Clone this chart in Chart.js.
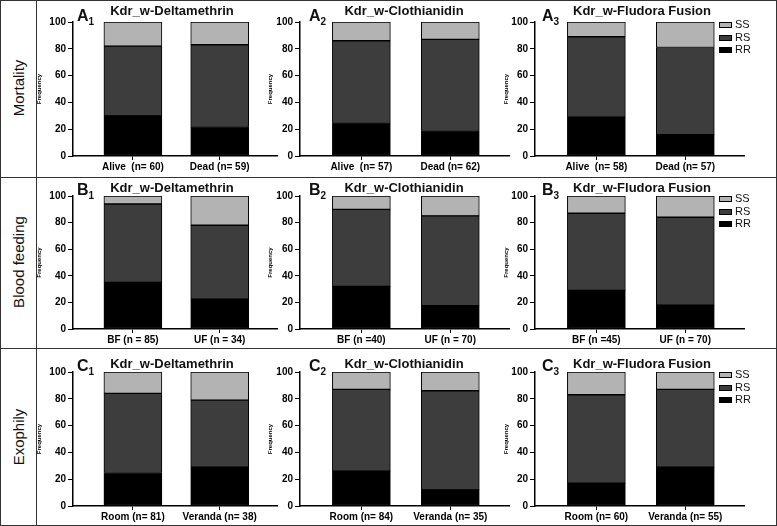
<!DOCTYPE html>
<html>
<head>
<meta charset="utf-8">
<script src="https://cdn.jsdelivr.net/npm/chart.js@4.4.1/dist/chart.umd.min.js"></script>
<style>
body { margin: 0; background: #fff; font-family: "Liberation Sans", Arial, sans-serif; }
#fig { position: relative; width: 777px; height: 526px; overflow: hidden; background: #fff; }
.frame { position: absolute; left: 0; top: 0; width: 775px; height: 524px; border: 1px solid #333; }
.hline { position: absolute; left: 0; width: 777px; height: 1px; background: #333; }
.vline { position: absolute; left: 36px; top: 0; width: 1px; height: 526px; background: #333; }
.rowlab { position: absolute; left: 18px; transform: translate(-50%, -50%) rotate(-90deg); font-size: 15px; white-space: nowrap; color: #111; }
.title { position: absolute; transform: translate(-50%, -50%); font-weight: bold; font-size: 13px; white-space: nowrap; color: #111; }
.plab { position: absolute; font-weight: bold; font-size: 16px; line-height: 16px; color: #111; }
.plab sub { font-size: 10px; vertical-align: baseline; position: relative; top: 4px; }
.legend { position: absolute; font-size: 11px; line-height: 12.5px; color: #111; }
.legend .box { display: inline-block; width: 13px; height: 6px; border: 1px solid #000; box-sizing: border-box; margin-right: 3px; vertical-align: middle; }
canvas { position: absolute; }
</style>
</head>
<body>
<div id="fig">
  <div class="frame"></div>
  <div class="vline"></div>
  <div class="hline" style="top:177px"></div>
  <div class="hline" style="top:348px"></div>
</div>
<script>
// Data

const rowNames = ['Mortality', 'Blood feeding', 'Exophily'];
const panelLetters = ['A', 'B', 'C'];
const insecticides = ['Kdr_w-Deltamethrin', 'Kdr_w-Clothianidin', 'Kdr_w-Fludora Fusion'];
const genotypes = ['RR', 'RS', 'SS'];
const genotypeColors = ['#000000', '#3d3d3d', '#b3b3b3'];
const yTicks = [0, 20, 40, 60, 80, 100];

// one entry per row, then per insecticide
const categories = [
    [['Alive  (n= 60)', 'Dead (n= 59)'], ['Alive  (n= 57)', 'Dead (n= 62)'], ['Alive  (n= 58)', 'Dead (n= 57)']],
    [['BF (n = 85)', 'UF (n = 34)'], ['BF (n =40)', 'UF (n = 70)'], ['BF (n =45)', 'UF (n = 70)']],
    [['Room (n= 81)', 'Veranda (n= 38)'], ['Room (n= 84)', 'Veranda (n= 35)'], ['Room (n= 60)', 'Veranda (n= 55)']]
];
const rrValues = [
    [[30, 22], [25, 19], [29, 16]],
    [[35, 22.5], [32, 17.5], [29, 18]],
    [[25, 29], [26, 12], [17, 29]]
];
const rsValues = [
    [[52, 61], [61, 68], [60, 65]],
    [[59, 55.5], [58, 67.5], [58, 66]],
    [[59, 50], [61, 74], [66, 58]]
];
const ssValues = [
    [[18, 17], [14, 13], [11, 19]],
    [[6, 22], [10, 15], [13, 16]],
    [[16, 21], [13, 14], [17, 13]]
];

// Layout (pixels)

const plotTop = [22, 196, 372];
const plotBottom = [156, 329, 506];
const axisX = [73, 300, 535];
const axisEnd = [277, 509, 744];
const freqX = [40, 271, 507];
const labelX = [77, 309, 542];
const titleX = [172, 404, 642];
const titleY = [10, 187, 363];
const rowMid = [88, 262, 437];

Chart.defaults.font.family = '"Liberation Sans", Arial, sans-serif';
Chart.defaults.color = '#000';

const fig = document.getElementById('fig');
const seriesValues = [rrValues, rsValues, ssValues];

function addDiv(cls, html, style) {
    const d = document.createElement('div');
    d.className = cls;
    d.innerHTML = html;
    Object.assign(d.style, style);
    fig.appendChild(d);
    return d;
}

rowNames.forEach((name, r) => {
    addDiv('rowlab', name, { top: rowMid[r] + 'px' });

    insecticides.forEach((ins, c) => {
        const left = freqX[c] - 4;
        const top = plotTop[r] - 10;
        const canvas = document.createElement('canvas');
        canvas.width = axisEnd[c] - left + 4;
        canvas.height = plotBottom[r] - top + 24;
        canvas.style.left = left + 'px';
        canvas.style.top = top + 'px';
        fig.appendChild(canvas);

        new Chart(canvas, {
            type: 'bar',
            data: {
                labels: categories[r][c],
                datasets: genotypes.map((g, i) => ({
                    label: g,
                    data: seriesValues[i][r][c],
                    backgroundColor: genotypeColors[i],
                    borderColor: '#000',
                    borderWidth: 1,
                    borderSkipped: false,
                    barThickness: 58
                }))
            },
            options: {
                responsive: false,
                animation: false,
                devicePixelRatio: 1,
                layout: { padding: { top: 10, left: 0, right: 4, bottom: 0 } },
                plugins: { legend: { display: false }, tooltip: { enabled: false } },
                scales: {
                    x: {
                        stacked: true,
                        // bars sit a little closer together than the default category spacing
                        afterBuildTicks: s => { s._startValue = -0.69; s._valueRange = 2.35; },
                        afterFit: s => { s.height = 24; },
                        border: { color: '#000', width: 1.5 },
                        grid: { drawOnChartArea: false, offset: false, tickLength: 4, color: '#000' },
                        ticks: { font: { weight: 'bold', size: 10 }, padding: 1, maxRotation: 0, autoSkip: false }
                    },
                    y: {
                        stacked: true,
                        min: 0,
                        max: 100,
                        afterBuildTicks: s => { s.ticks = yTicks.map(v => ({ value: v })); },
                        afterFit: s => { s.width = axisX[c] - left; },
                        border: { color: '#000', width: 1.5 },
                        grid: { drawOnChartArea: false, tickLength: 5, color: '#000' },
                        ticks: { font: { weight: 'bold', size: 10 }, padding: 2 },
                        title: { display: true, text: 'Frequency', font: { weight: 'bold', size: 6 }, padding: 0 }
                    }
                }
            }
        });

        addDiv('title', ins, { left: titleX[c] + 'px', top: titleY[r] + 'px' });
        addDiv('plab', panelLetters[r] + '<sub>' + (c + 1) + '</sub>', { left: labelX[c] + 'px', top: (plotTop[r] - 14) + 'px' });
    });

    // legend on the right-hand panel of each row, top entry first
    const items = genotypes.map((g, i) => '<div><span class="box" style="background:' + genotypeColors[i] + '"></span>' + g + '</div>').reverse();
    addDiv('legend', items.join(''), { left: '719px', top: (plotTop[r] - 4) + 'px' });
});
</script>
</body>
</html>
